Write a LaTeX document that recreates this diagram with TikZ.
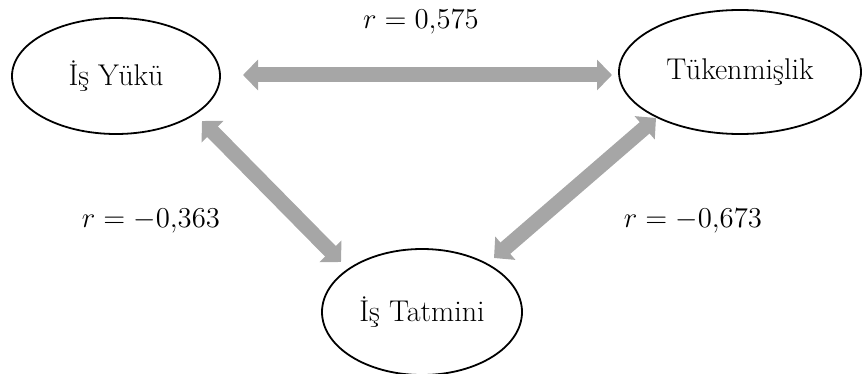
\documentclass[tikz,border=0pt]{standalone}
\usepackage{fontspec}
\usetikzlibrary{shapes.geometric,arrows.meta}
\definecolor{arrowgray}{HTML}{A6A6A6}
\tikzset{
  var/.style={ellipse,draw=black,line width=0.9pt,inner sep=0pt,font=\fontsize{15}{17}\selectfont},
  conn/.style={draw=arrowgray,line width=7.5pt,
    {Triangle[width=15pt,length=7.5pt]}-{Triangle[width=15pt,length=7.5pt]}},
  lab/.style={font=\fontsize{15}{17}\selectfont,inner sep=0pt}
}
\begin{document}
\begin{tikzpicture}[x=0.5pt,y=-0.5pt]
\useasboundingbox (0,0) rectangle (862,374);
\node[var,minimum width=104pt,minimum height=58pt] (a) at (116,76) {İş Yükü};
\node[var,minimum width=121pt,minimum height=62pt] (b) at (740,72) {Tükenmişlik};
\node[var,minimum width=100pt,minimum height=63pt] (c) at (422,312) {İş Tatmini};
\draw[conn] ([shift={(127,-1)}]a.center) -- ([shift={(-128,3)}]b.center);
\draw[conn] ([shift={(86,45)}]a.center) -- ([shift={(-81,-50)}]c.center);
\draw[conn] ([shift={(-84,46)}]b.center) -- ([shift={(72,-54)}]c.center);
\node[lab] (l1) at (421,22) {$r = 0{,}575$};
\node[lab] (l2) at (151,221) {$r = -0{,}363$};
\node[lab] (l3) at (693,221) {$r = -0{,}673$};
\end{tikzpicture}
\end{document}
